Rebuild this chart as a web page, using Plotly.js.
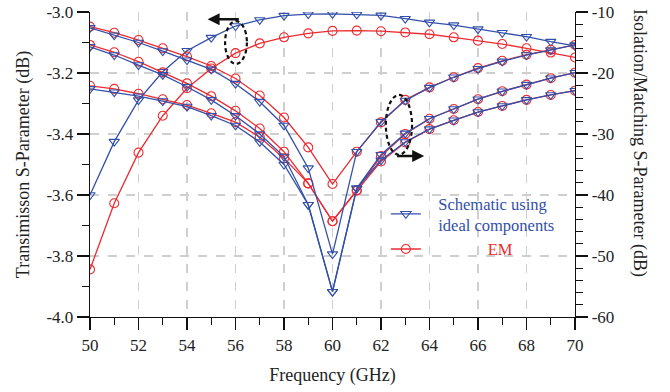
<!DOCTYPE html>
<html>
<head>
<meta charset="utf-8">
<script src="https://cdn.plot.ly/plotly-3.0.1.min.js"></script>
<style>html,body{margin:0;padding:0;background:#fff;}#chart{width:670px;height:392px;}</style>
</head>
<body>
<div id="chart"></div>
<script>
// ---- data ----
const freq = [50,51,52,53,54,55,56,57,58,59,60,61,62,63,64,65,66,67,68,69,70];

// Transmission (left axis, dB)
const transSchem = [-3.600,-3.425,-3.289,-3.196,-3.127,-3.084,-3.046,-3.026,-3.012,-3.007,-3.006,-3.008,-3.011,-3.022,-3.034,-3.043,-3.056,-3.068,-3.081,-3.097,-3.111];
const transEM    = [-3.844,-3.627,-3.461,-3.340,-3.250,-3.185,-3.135,-3.103,-3.083,-3.070,-3.062,-3.061,-3.063,-3.067,-3.073,-3.083,-3.094,-3.105,-3.119,-3.133,-3.149];

// Isolation / matching (right axis, dB)
const isoASchem = [-12.6,-13.8,-15.0,-16.4,-17.9,-19.4,-21.75,-24.7,-28.6,-35.6,-49.7,-32.9,-28.0,-24.5,-22.4,-20.7,-19.3,-18.1,-17.05,-16.25,-15.4];
const isoAEM    = [-12.4,-13.4,-14.6,-15.95,-17.3,-18.85,-20.9,-23.7,-27.3,-32.2,-38.2,-32.9,-28.1,-24.4,-22.35,-20.7,-19.2,-18.0,-17.0,-16.2,-15.4];
const isoBSchem = [-15.7,-17.05,-18.7,-20.3,-22.25,-24.4,-27.0,-30.0,-33.7,-41.6,-55.85,-38.9,-33.4,-29.9,-27.5,-25.9,-24.3,-23.0,-21.9,-20.85,-19.95];
const isoBEM    = [-15.4,-16.6,-18.15,-19.9,-21.7,-23.8,-26.2,-29.1,-32.9,-38.1,-44.3,-39.2,-33.6,-30.0,-27.5,-25.9,-24.3,-23.0,-21.9,-20.85,-19.95];
const isoCSchem = [-22.6,-23.15,-23.8,-24.6,-25.5,-27.0,-28.6,-31.3,-35.0,-41.6,-55.85,-38.9,-34.3,-31.3,-29.2,-27.75,-26.4,-25.4,-24.4,-23.6,-22.9];
const isoCEM    = [-22.1,-22.6,-23.4,-24.3,-25.25,-26.6,-28.05,-30.5,-34.0,-38.1,-44.3,-39.3,-34.5,-31.4,-29.2,-27.75,-26.4,-25.4,-24.4,-23.6,-22.9];

// tick labels
const xTickVals = [50,52,54,56,58,60,62,64,66,68,70];
const xTickText = ['50','52','54','56','58','60','62','64','66','68','70'];
const leftTickVals = [-4.0,-3.8,-3.6,-3.4,-3.2,-3.0];
const leftTickText = ['-4.0','-3.8','-3.6','-3.4','-3.2','-3.0'];
const rightTickVals = [-60,-50,-40,-30,-20,-10];
const rightTickText = ['-60','-50','-40','-30','-20','-10'];

const nameSchemLines = ['Schematic using', 'ideal components'];
const nameEM = 'EM';

// ---- styling ----
const BLUE = '#3250AA';
const RED = '#EC2B30';
const FONT = 'Liberation Serif, Times New Roman, serif';
const pad = n => '\u00a0'.repeat(n);

function tr(y, axis, color, symbol, show, name) {
  return {
    x: freq, y: y, yaxis: axis, type: 'scatter', mode: 'lines+markers',
    line: {color: color, width: 1.3},
    marker: {symbol: symbol, size: 9, color: color, line: {color: color, width: 1.1}},
    showlegend: show, name: name, hoverinfo: 'skip'
  };
}

const legSchem = '<span style="color:' + BLUE + '">' + nameSchemLines.map(s => pad(3) + s).join('<br>') + '</span>';
const legEM = '<span style="color:' + RED + '">' + pad(15) + nameEM + '</span>';

const data = [
  tr(transEM, 'y', RED, 'circle-open', true, legEM),
  tr(isoAEM, 'y2', RED, 'circle-open', false, nameEM),
  tr(isoBEM, 'y2', RED, 'circle-open', false, nameEM),
  tr(isoCEM, 'y2', RED, 'circle-open', false, nameEM),
  tr(transSchem, 'y', BLUE, 'triangle-down-open', true, legSchem),
  tr(isoASchem, 'y2', BLUE, 'triangle-down-open', false, nameSchemLines.join(' ')),
  tr(isoBSchem, 'y2', BLUE, 'triangle-down-open', false, nameSchemLines.join(' ')),
  tr(isoCSchem, 'y2', BLUE, 'triangle-down-open', false, nameSchemLines.join(' '))
];

const axisCommon = {
  showline: true, linecolor: '#111', linewidth: 1.3,
  ticks: 'outside', ticklen: 12, tickwidth: 1.2, tickcolor: '#111',
  zeroline: false,
  tickfont: {family: FONT, size: 17, color: '#222'}
};

const layout = {
  width: 670, height: 392,
  margin: {l: 90, r: 95, t: 12, b: 75},
  paper_bgcolor: '#fff', plot_bgcolor: '#fff',
  font: {family: FONT, size: 17, color: '#222'},
  xaxis: Object.assign({}, axisCommon, {
    range: [50, 70], tickvals: xTickVals, ticktext: xTickText,
    showgrid: true, gridcolor: '#cfcfcf', griddash: 'dash', gridwidth: 1.4,
    minor: {dtick: 1, ticks: 'outside', ticklen: 7, tickcolor: '#111', tickwidth: 1.2, showgrid: false},
    title: {text: 'Frequency (GHz)', font: {family: FONT, size: 18, color: '#222'}, standoff: 14}
  }),
  yaxis: Object.assign({}, axisCommon, {
    range: [-4.0, -3.0], tickvals: leftTickVals, ticktext: leftTickText,
    showgrid: true, gridcolor: '#cfcfcf', griddash: 'dash', gridwidth: 1.4,
    minor: {dtick: 0.1, ticks: 'outside', ticklen: 7, tickcolor: '#111', tickwidth: 1.2, showgrid: false},
    title: {text: 'Transimisson S-Parameter (dB)', font: {family: FONT, size: 18, color: '#222'}, standoff: 12}
  }),
  yaxis2: Object.assign({}, axisCommon, {
    range: [-60, -10], tickvals: rightTickVals, ticktext: rightTickText,
    overlaying: 'y', side: 'right', showgrid: false,
    minor: {dtick: 2, ticks: 'outside', ticklen: 7, tickcolor: '#111', tickwidth: 1.2, showgrid: false}
  }),
  showlegend: true,
  legend: {
    x: 0.61, y: 0.43, xanchor: 'left', yanchor: 'top',
    bgcolor: 'rgba(0,0,0,0)', borderwidth: 0,
    font: {family: FONT, size: 16.5, color: '#222'},
    traceorder: 'reversed', tracegroupgap: 8, valign: 'middle'
  },
  shapes: [
    {type: 'circle', xref: 'x', yref: 'y', x0: 55.57, x1: 56.47, y0: -3.170, y1: -3.030,
     line: {color: '#111', width: 2.2, dash: '4px,3px'}},
    {type: 'circle', xref: 'x', yref: 'y2', x0: 62.2, x1: 63.28, y0: -33.4, y1: -23.6,
     line: {color: '#111', width: 2.2, dash: '4px,3px'}}
  ],
  annotations: [
    {x: 54.85, y: -3.024, xref: 'x', yref: 'y', ax: 56.2, ay: -3.024, axref: 'x', ayref: 'y',
     text: '', showarrow: true, arrowhead: 2, arrowsize: 1, arrowwidth: 2.4, arrowcolor: '#111'},
    {x: 63.78, y: -33.6, xref: 'x', yref: 'y2', ax: 62.6, ay: -33.6, axref: 'x', ayref: 'y2',
     text: '', showarrow: true, arrowhead: 2, arrowsize: 1, arrowwidth: 2.4, arrowcolor: '#111'},
    {x: 1.16, y: 0.57, xref: 'paper', yref: 'paper', text: 'Isolation/Matching S-Parameter (dB)',
     textangle: 90, showarrow: false, font: {family: FONT, size: 18, color: '#222'}}
  ]
};

Plotly.newPlot('chart', data, layout, {displayModeBar: false, staticPlot: true});
</script>
</body>
</html>
